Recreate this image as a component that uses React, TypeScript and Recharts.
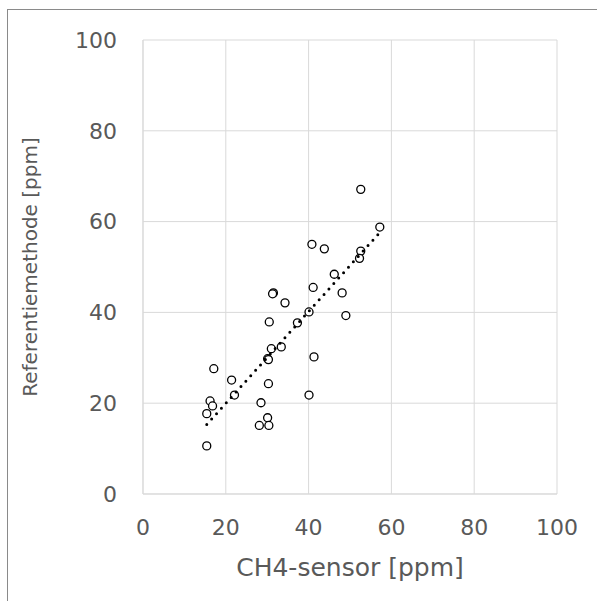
import React from 'react';
import {
  ScatterChart,
  Scatter,
  XAxis,
  YAxis,
  CartesianGrid,
  Label
} from 'recharts';

// CH4-sensor readings (x) vs reference method (y), both ppm
const sensorPpm = [
  52.6, 57.2, 40.8, 43.8, 52.6, 52.3, 46.2, 41.1, 48.1, 31.5, 31.3, 34.3,
  40.1, 49.0, 30.5, 37.3, 31.0, 33.4, 30.1, 30.3, 41.3, 17.1, 21.4, 30.3,
  22.1, 40.1, 16.2, 28.5, 16.8, 15.4, 30.1, 28.1, 30.4, 15.4
];
const referencePpm = [
  67.1, 58.8, 55.0, 54.0, 53.5, 51.9, 48.4, 45.5, 44.3, 44.3, 44.1, 42.1,
  40.1, 39.3, 37.9, 37.7, 32.0, 32.4, 29.8, 29.6, 30.2, 27.6, 25.1, 24.3,
  21.8, 21.8, 20.5, 20.1, 19.4, 17.7, 16.8, 15.1, 15.1, 10.6
];

// linear trendline end points
const trendX = [15.4, 57.2];
const trendY = [15.3, 57.6];

const axisTicks = [0, 20, 40, 60, 80, 100];

const points = sensorPpm.map((x, i) => ({ x, y: referencePpm[i] }));
const trend = trendX.map((x, i) => ({ x, y: trendY[i] }));

const FONT = '"DejaVu Sans", Verdana, sans-serif';
const TEXT = '#595959';
const GRID = '#d9d9d9';

const OpenCircle = (props: any) => {
  const { cx, cy } = props;
  if (cx == null || cy == null) return null;
  return <circle cx={cx} cy={cy} r={4} fill="#fff" stroke="#000" strokeWidth={1.3} />;
};

const NoDot = () => null;

const YTitle = (props: any) => {
  const vb = props.viewBox || {};
  const cx = vb.x + 30;
  const cy = vb.y + vb.height / 2;
  return (
    <text
      x={cx}
      y={cy}
      transform={`rotate(-90 ${cx} ${cy})`}
      textAnchor="middle"
      dominantBaseline="central"
      fill={TEXT}
      fontSize={20}
      fontFamily={FONT}
    >
      Referentiemethode [ppm]
    </text>
  );
};

export default function App() {
  return (
    <div style={{ position: 'absolute', left: 0, top: 0, width: 597, height: 601, background: '#fff', overflow: 'hidden' }}>
      <div
        style={{
          position: 'absolute',
          left: 7,
          top: 9,
          width: 600,
          height: 600,
          borderTop: '1px solid #8a8a8a',
          borderLeft: '1px solid #8a8a8a'
        }}
      />
      <div style={{ position: 'absolute', left: 0, top: 0 }}>
        <ScatterChart width={597} height={601} margin={{ top: 40, right: 40, bottom: 0, left: 0 }}>
          <CartesianGrid stroke={GRID} strokeWidth={1} />
          <XAxis
            type="number"
            dataKey="x"
            domain={[0, 100]}
            ticks={axisTicks}
            allowDataOverflow
            height={107}
            axisLine={{ stroke: GRID }}
            tickLine={false}
            tickSize={0}
            tickMargin={25}
            tick={{ fill: TEXT, fontSize: 22, fontFamily: FONT }}
          >
            <Label
              value="CH4-sensor [ppm]"
              position="insideBottom"
              offset={25}
              fill={TEXT}
              fontSize={25}
              fontFamily={FONT}
            />
          </XAxis>
          <YAxis
            type="number"
            dataKey="y"
            domain={[0, 100]}
            ticks={axisTicks}
            allowDataOverflow
            width={143}
            axisLine={{ stroke: GRID }}
            tickLine={false}
            tickSize={0}
            tickMargin={26}
            tick={{ fill: TEXT, fontSize: 22, fontFamily: FONT }}
          >
            <Label content={<YTitle />} />
          </YAxis>
          <Scatter data={points} shape={<OpenCircle />} isAnimationActive={false} />
          <Scatter
            data={trend}
            shape={<NoDot />}
            line={{ stroke: '#000', strokeWidth: 3, strokeDasharray: '0 7.3', strokeLinecap: 'round' }}
            isAnimationActive={false}
          />
        </ScatterChart>
      </div>
    </div>
  );
}
